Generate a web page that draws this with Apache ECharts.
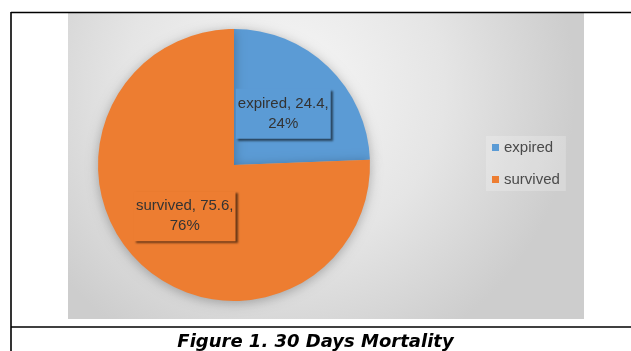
<!DOCTYPE html>
<html>
<head>
<meta charset="utf-8">
<script src="https://cdn.jsdelivr.net/npm/echarts@6/dist/echarts.min.js"></script>
<style>
  html, body { margin: 0; padding: 0; background: #ffffff; }
  #chart { width: 631px; height: 351px; }
</style>
</head>
<body>
<div id="chart"></div>
<script>
// 30-day outcome counts
const categories = ['expired', 'survived'];
const values = [24.4, 75.6];
const sliceColors = ['#5b9bd5', '#ed7d31'];
const caption = 'Figure 1. 30 Days Mortality';

const pieData = categories.map((name, i) => ({
  name: name,
  value: values[i],
  itemStyle: { color: sliceColors[i] }
}));

const chart = echarts.init(document.getElementById('chart'), null, { renderer: 'canvas' });

chart.setOption({
  animation: false,
  backgroundColor: '#ffffff',
  title: {
    text: caption,
    left: 'center',
    top: 328,
    textStyle: {
      fontFamily: 'DejaVu Sans',
      fontWeight: 'bold',
      fontStyle: 'italic',
      fontSize: 18,
      color: '#000000'
    }
  },
  graphic: [
    // chart panel with soft grey radial shading
    {
      type: 'rect',
      z: -10,
      shape: { x: 68, y: 13, width: 516, height: 306 },
      style: {
        fill: new echarts.graphic.RadialGradient(0.42, 0.25, 0.95, [
          { offset: 0, color: '#f7f7f7' },
          { offset: 0.55, color: '#e5e5e5' },
          { offset: 1, color: '#cdcdcd' }
        ])
      }
    },
    // frame lines
    { type: 'line', z: 10, shape: { x1: 11, y1: 12.5, x2: 631, y2: 12.5 }, style: { stroke: '#000', lineWidth: 1.6 } },
    { type: 'line', z: 10, shape: { x1: 11, y1: 12, x2: 11, y2: 351 }, style: { stroke: '#000', lineWidth: 1.6 } },
    { type: 'line', z: 10, shape: { x1: 11, y1: 327, x2: 631, y2: 327 }, style: { stroke: '#000', lineWidth: 1.6 } }
  ],
  legend: {
    orient: 'vertical',
    left: 486,
    top: 136,
    icon: 'rect',
    itemWidth: 7,
    itemHeight: 7,
    itemGap: 17,
    padding: [4, 6, 4, 6],
    backgroundColor: 'rgba(255,255,255,0.22)',
    textStyle: {
      fontFamily: 'Liberation Sans',
      fontSize: 15,
      color: '#4a4a4a'
    },
    data: categories
  },
  series: [{
    type: 'pie',
    center: [234, 165],
    radius: 136,
    startAngle: 90,
    clockwise: true,
    percentPrecision: 0,
    itemStyle: {
      borderWidth: 0,
      shadowBlur: 12,
      shadowColor: 'rgba(0,0,0,0.28)',
      shadowOffsetX: 0,
      shadowOffsetY: 2
    },
    emphasis: { disabled: true },
    label: {
      show: true,
      position: 'inside',
      formatter: '{b}, {c},\n{d}%',
      fontFamily: 'Liberation Sans',
      fontSize: 15,
      lineHeight: 20,
      color: '#333333',
      align: 'center',
      backgroundColor: 'inherit',
      padding: [4, 2, 6, 2],
      shadowColor: 'rgba(0,0,0,0.55)',
      shadowBlur: 2,
      shadowOffsetX: 2,
      shadowOffsetY: 2
    },
    labelLine: { show: false },
    data: pieData
  }]
});
</script>
</body>
</html>
